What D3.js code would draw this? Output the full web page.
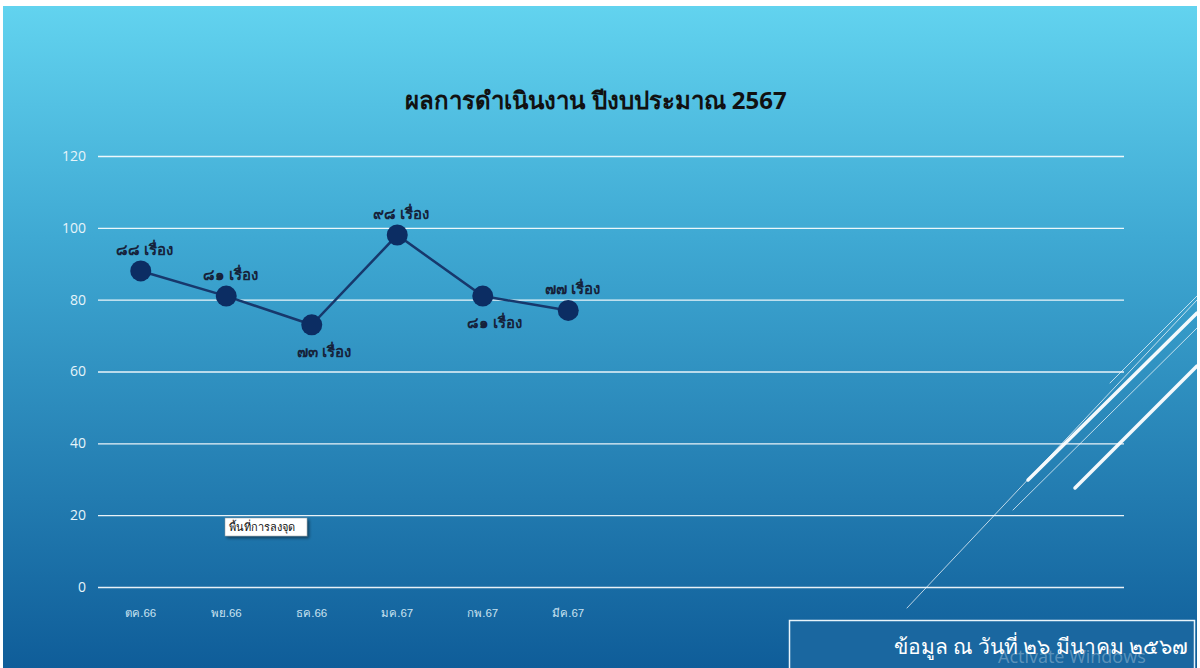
<!DOCTYPE html>
<html>
<head>
<meta charset="utf-8">
<script src="https://cdn.jsdelivr.net/npm/d3@7"></script>
<style>
  html, body { margin: 0; padding: 0; background: #fff; }
  svg { display: block; font-family: Tahoma, "Noto Sans", "DejaVu Sans", sans-serif; }
</style>
</head>
<body>
<svg width="1200" height="668"></svg>
<script>
(function() {
    'use strict';

    // data
    var months = ["ตค.66", "พย.66", "ธค.66", "มค.67", "กพ.67", "มีค.67"];
    var values = [88, 81, 73, 98, 81, 77];
    var labelSide = ["above", "above", "below", "above", "below", "above"];
    var yTicks = [0, 20, 40, 60, 80, 100, 120];
    var slotCount = 12;
    var title = "ผลการดำเนินงาน ปีงบประมาณ 2567";
    var footnote = "ข้อมูล ณ วันที่ ๒๖ มีนาคม ๒๕๖๗";

    var thaiDigits = "๐๑๒๓๔๕๖๗๘๙";
    function toThai(n) {
        return String(n).replace(/[0-9]/g, function(c) { return thaiDigits[+c]; });
    }

    var svg = d3.select("svg");
    var width = +svg.attr("width");
    var height = +svg.attr("height");

    var defs = svg.append("defs");
    var grad = defs.append("linearGradient")
        .attr("id", "bg")
        .attr("x1", 0).attr("y1", 0).attr("x2", 0).attr("y2", 1);
    grad.append("stop").attr("offset", "0%").attr("stop-color", "#62d3ef");
    grad.append("stop").attr("offset", "35%").attr("stop-color", "#3fa9d3");
    grad.append("stop").attr("offset", "100%").attr("stop-color", "#0f5d99");

    var shadow = defs.append("filter").attr("id", "shadow")
        .attr("x", "-20%").attr("y", "-40%").attr("width", "150%").attr("height", "200%");
    shadow.append("feDropShadow")
        .attr("dx", 2).attr("dy", 2).attr("stdDeviation", 1.5)
        .attr("flood-color", "#000").attr("flood-opacity", 0.45);

    svg.append("rect")
        .attr("x", 3).attr("y", 6)
        .attr("width", width - 6).attr("height", height - 6)
        .attr("fill", "url(#bg)");

    var x = d3.scaleBand()
        .domain(d3.range(slotCount))
        .range([98, 1124]);

    var y = d3.scaleLinear()
        .domain([0, 120])
        .range([587, 156]);

    // decorative diagonal strokes on the right
    var deco = [
        { x1: 907, y1: 608, x2: 1197, y2: 300, w: 1, o: 0.7 },
        { x1: 1028, y1: 480, x2: 1197, y2: 313, w: 3.5, o: 0.95 },
        { x1: 1013, y1: 510, x2: 1197, y2: 328, w: 1, o: 0.7 },
        { x1: 1075, y1: 488, x2: 1197, y2: 366, w: 3.5, o: 0.95 },
        { x1: 1110, y1: 383, x2: 1197, y2: 296, w: 1, o: 0.7 }
    ];
    svg.append("g").attr("class", "deco")
      .selectAll("line")
      .data(deco)
      .enter().append("line")
        .attr("x1", function(d) { return d.x1; })
        .attr("y1", function(d) { return d.y1; })
        .attr("x2", function(d) { return d.x2; })
        .attr("y2", function(d) { return d.y2; })
        .attr("stroke", "#fff")
        .attr("stroke-width", function(d) { return d.w; })
        .attr("stroke-opacity", function(d) { return d.o; })
        .attr("stroke-linecap", "round");

    // gridlines
    svg.append("g")
        .attr("class", "grid")
        .attr("transform", "translate(98,0)")
        .call(d3.axisLeft(y)
            .tickValues(yTicks)
            .tickSize(-(1124 - 98))
            .tickFormat(""))
      .call(function(g) { g.select(".domain").remove(); })
      .selectAll("line")
        .attr("stroke", "#fff")
        .attr("stroke-opacity", 0.9)
        .attr("stroke-width", 1.3);

    // y axis labels
    svg.append("g")
        .attr("transform", "translate(86,0)")
        .call(d3.axisLeft(y).tickValues(yTicks).tickSize(0).tickPadding(0))
      .call(function(g) { g.select(".domain").remove(); })
      .selectAll("text")
        .attr("fill", "#e6f4fa")
        .attr("font-family", "'Open Sans', 'DejaVu Sans', sans-serif")
        .attr("font-size", 14);

    // x axis labels
    svg.append("g")
        .attr("transform", "translate(0,613)")
        .call(d3.axisBottom(x)
            .tickValues(d3.range(months.length))
            .tickSize(0)
            .tickPadding(0)
            .tickFormat(function(i) { return months[i]; }))
      .call(function(g) { g.select(".domain").remove(); })
      .selectAll("text")
        .attr("dy", "0.35em")
        .attr("fill", "#c9e2f0")
        .attr("font-size", 11.5);

    var cx = function(d, i) { return x(i) + x.bandwidth() / 2; };

    var line = d3.line()
        .x(function(d, i) { return x(i) + x.bandwidth() / 2; })
        .y(function(d) { return y(d); });

    svg.append("path")
        .datum(values)
        .attr("fill", "none")
        .attr("stroke", "#17386c")
        .attr("stroke-width", 2.5)
        .attr("d", line);

    svg.append("g").attr("class", "dots")
      .selectAll("circle")
      .data(values)
      .enter().append("circle")
        .attr("cx", cx)
        .attr("cy", function(d) { return y(d); })
        .attr("r", 10.5)
        .attr("fill", "#0c2d63");

    svg.append("g").attr("class", "labels")
      .selectAll("text")
      .data(values)
      .enter().append("text")
        .attr("x", function(d, i) { return cx(d, i) + (labelSide[i] === "above" ? 4 : 12); })
        .attr("y", function(d, i) { return y(d) + (labelSide[i] === "above" ? -16 : 32); })
        .attr("text-anchor", "middle")
        .attr("font-size", 15)
        .attr("font-weight", "bold")
        .attr("fill", "#16223a")
        .text(function(d) { return toThai(d) + " เรื่อง"; });

    // title
    svg.append("text")
        .attr("x", 596)
        .attr("y", 109)
        .attr("text-anchor", "middle")
        .attr("font-size", 24)
        .attr("font-weight", "bold")
        .attr("fill", "#111")
        .text(title);

    // tooltip-like box
    var tip = svg.append("g").attr("transform", "translate(225,518)");
    tip.append("rect")
        .attr("width", 82).attr("height", 18)
        .attr("fill", "#fff")
        .attr("stroke", "#999")
        .attr("stroke-width", 0.5)
        .attr("filter", "url(#shadow)");
    tip.append("text")
        .attr("x", 4).attr("y", 13)
        .attr("font-size", 11)
        .attr("fill", "#111")
        .text("พื้นที่การลงจุด");

    // footnote box
    svg.append("rect")
        .attr("x", 789.5).attr("y", 620.5)
        .attr("width", 405).attr("height", 52)
        .attr("fill", "#1a67a0")
        .attr("stroke", "#e8f4fb")
        .attr("stroke-width", 1.5);
    svg.append("text")
        .attr("x", 1188)
        .attr("y", 654)
        .attr("text-anchor", "end")
        .attr("font-size", 21)
        .attr("fill", "#fff")
        .text(footnote);
    svg.append("text")
        .attr("x", 998)
        .attr("y", 663)
        .attr("font-size", 18)
        .attr("fill", "#fff")
        .attr("fill-opacity", 0.3)
        .attr("font-family", "'Segoe UI', 'Open Sans', sans-serif")
        .text("Activate Windows");
}());
</script>
</body>
</html>
